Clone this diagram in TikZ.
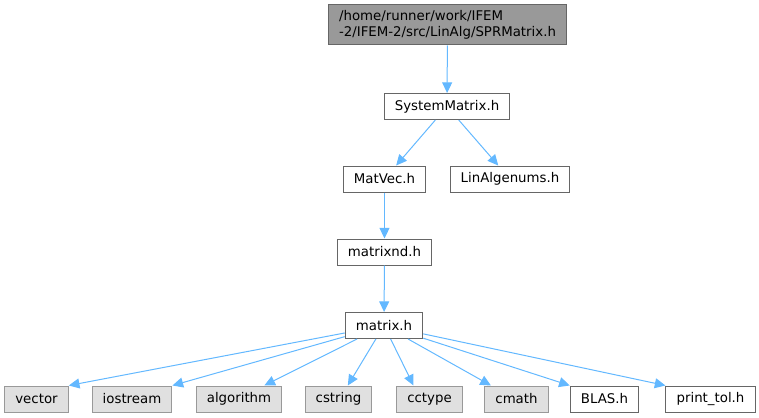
\documentclass[tikz,border=0pt]{standalone}
\usepackage{fontspec}
\setmainfont{DejaVu Sans}
\usetikzlibrary{arrows.meta}
\definecolor{edgeblue}{HTML}{63B8FF}
\definecolor{sysfill}{HTML}{E0E0E0}
\definecolor{sysdraw}{HTML}{999999}
\definecolor{boxdraw}{HTML}{666666}

\begin{document}
\begin{tikzpicture}[x=0.75pt, y=-0.75pt, font=\fontsize{10}{12}\selectfont,
    hdr/.style={draw=boxdraw, fill=white, line width=0.75pt, minimum height=19.5pt, inner xsep=8pt, inner ysep=2pt},
    syshdr/.style={hdr, draw=sysdraw, fill=sysfill},
    dep/.style={draw=edgeblue, line width=0.75pt, -{Triangle[length=8pt, width=7.5pt]}}]
     \useasboundingbox (0,0) rectangle (759,417);
     \node[hdr, fill=sysdraw, align=left, minimum width=176pt, minimum height=30pt] (spr) at (447.5,25) {/home/runner/work/IFEM\\-2/IFEM-2/src/LinAlg/SPRMatrix.h};
     \node[hdr] (sysmat) at (447,106.5) {SystemMatrix.h};
     \node[hdr] (matvec) at (384.5,179) {MatVec.h};
     \node[hdr] (linalgenums) at (510,179) {LinAlgenums.h};
     \node[hdr] (matrixnd) at (384.5,252) {matrixnd.h};
     \node[hdr] (matrix) at (384,325.5) {matrix.h};

     \node[syshdr] (vector) at (36.5,399) {vector};
     \node[syshdr] (iostream) at (132,399) {iostream};
     \node[syshdr] (algorithm) at (239,399) {algorithm};
     \node[syshdr] (cstring) at (338.5,399) {cstring};
     \node[syshdr] (cctype) at (429.5,399) {cctype};
     \node[syshdr] (cmath) at (516.5,399) {cmath};
     \node[hdr] (blas) at (604.5,399) {BLAS.h};
     \node[hdr] (printtol) at (710.5,399) {print\_tol.h};

     \draw[dep] (spr) -- (sysmat);
     \draw[dep] (sysmat) -- (matvec);
     \draw[dep] (sysmat) -- (linalgenums);
     \draw[dep] (matvec) -- (matrixnd);
     \draw[dep] (matrixnd) -- (matrix);

     \draw[dep] (matrix) -- (vector.north east);
     \draw[dep] (matrix) -- (iostream.north east);
     \draw[dep] (matrix) -- ([xshift=19pt]algorithm.north);
     \draw[dep] (matrix) -- ([xshift=7pt]cstring.north);
     \draw[dep] (matrix) -- ([xshift=-12pt]cctype.north);
     \draw[dep] (matrix) -- ([xshift=5pt]cmath.north west);
     \draw[dep] (matrix) -- (blas.north west);
     \draw[dep] (matrix) -- (printtol.north west);
   \end{tikzpicture}
\end{document}
